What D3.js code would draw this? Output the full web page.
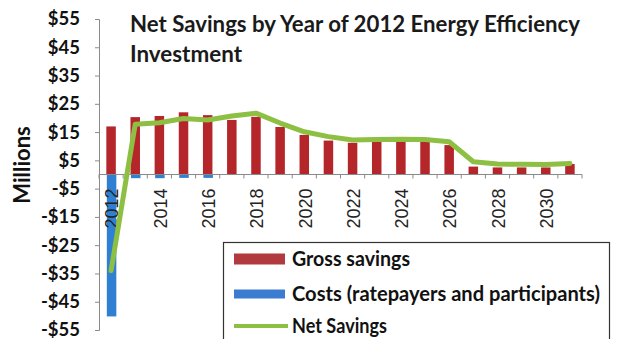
<!DOCTYPE html>
<html><head><meta charset="utf-8">
<script src="https://cdn.jsdelivr.net/npm/d3@7"></script>
<style>body{margin:0;background:#fff}svg{display:block}</style>
</head><body>
<script>
const years = d3.range(2012, 2032).map(String);
const grossSavings = [17, 20.3, 20.7, 22, 21, 19.3, 20.4, 16.8, 14, 12, 11.2, 11.6, 11.8, 11.6, 10.4, 2.8, 2.5, 2.5, 2.5, 3.7];
const costs = [-50.2, -1.3, -1.3, -1.2, -1.2, 0, 0, 0, 0, 0, 0, 0, 0, 0, 0, 0, 0, 0, 0, 0];
const netSavings = [-34, 17.8, 18.3, 19.8, 19.3, 20.7, 21.7, 18.2, 15.1, 13.4, 12.2, 12.4, 12.5, 12.4, 11.6, 4.5, 3.7, 3.6, 3.5, 3.9];
const yTicks = [-55, -45, -35, -25, -15, -5, 5, 15, 25, 35, 45, 55];
const xTickLabels = ["2012","2014","2016","2018","2020","2022","2024","2026","2028","2030"];
const titleLines = ["Net Savings by Year of 2012 Energy Efficiency", "Investment"];
const legendItems = ["Gross savings", "Costs (ratepayers and participants)", "Net Savings"];

const W = 619, H = 339;
const svg = d3.select("body").append("svg").attr("width", W).attr("height", H);
const font = "Lato, 'Open Sans', sans-serif";

const x = d3.scaleBand().domain(years).range([99, 582]).paddingInner(0).paddingOuter(0);
const y = d3.scaleLinear().domain([-55, 55]).range([330, 19]);
const bw = 9.5;
const red = "#b5262b", blue = "#2f7fd3", green = "#8dbf43";

// y axis
const yAxis = svg.append("g").attr("transform", "translate(99,0)")
  .call(d3.axisLeft(y).tickValues(yTicks).tickSize(4).tickPadding(15)
    .tickFormat(v => (v < 0 ? "-$" : "$") + Math.abs(v)));
yAxis.select(".domain").attr("stroke", "#8a8a8a");
yAxis.selectAll(".tick line").attr("stroke", "#8a8a8a");
yAxis.selectAll("text").attr("font-family", font).attr("font-weight", "bold")
  .attr("font-size", 18.5).attr("fill", "#111");

// bars
svg.append("g").selectAll("rect").data(years).join("rect")
  .attr("x", d => x(d) + x.bandwidth()/2 - bw/2)
  .attr("width", bw)
  .attr("y", (d,i) => y(grossSavings[i]))
  .attr("height", (d,i) => y(0) - y(grossSavings[i]))
  .attr("fill", red);
svg.append("g").selectAll("rect").data(years).join("rect")
  .attr("x", d => x(d) + x.bandwidth()/2 - bw/2 + 0.5)
  .attr("width", bw)
  .attr("y", y(0))
  .attr("height", (d,i) => y(costs[i]) - y(0))
  .attr("fill", blue);

// x axis
const xAxisG = svg.append("g").attr("transform", `translate(0,${y(0)})`);
xAxisG.append("line").attr("x1", 99).attr("x2", 582).attr("stroke", "#8a8a8a");
xAxisG.selectAll("line.t").data(d3.range(years.length + 1)).join("line")
  .attr("class", "t")
  .attr("x1", i => 99 + i * x.bandwidth()).attr("x2", i => 99 + i * x.bandwidth())
  .attr("y1", 0).attr("y2", 4).attr("stroke", "#8a8a8a");
xAxisG.selectAll("text").data(xTickLabels).join("text")
  .attr("transform", d => `translate(${x(d) + x.bandwidth()/2 + 1},14) rotate(-90)`)
  .attr("text-anchor", "end").attr("dy", "0.35em")
  .attr("font-family", "'Liberation Sans', Arial, sans-serif").attr("font-size", 18)
  .attr("fill", "#222").text(d => d);

// net line
const line = d3.line().x((d,i) => x(years[i]) + x.bandwidth()/2).y(d => y(d));
svg.append("path").datum(netSavings).attr("d", line)
  .attr("fill", "none").attr("stroke", green).attr("stroke-width", 5)
  .attr("stroke-linejoin", "round").attr("stroke-linecap", "round");

// title
svg.append("text").attr("x", 130).attr("y", 32).attr("font-family", font)
  .attr("font-weight", "bold").attr("font-size", 22).attr("fill", "#1a1a1a")
  .attr("textLength", 450).attr("lengthAdjust", "spacingAndGlyphs").text(titleLines[0]);
svg.append("text").attr("x", 130).attr("y", 62).attr("font-family", font)
  .attr("font-weight", "bold").attr("font-size", 22).attr("fill", "#1a1a1a")
  .attr("textLength", 112).attr("lengthAdjust", "spacingAndGlyphs").text(titleLines[1]);

// y label
svg.append("text").attr("transform", "translate(30,165) rotate(-90)")
  .attr("text-anchor", "middle").attr("font-family", font).attr("font-weight", "bold")
  .attr("font-size", 22).attr("fill", "#111").text("Millions");

// legend
const lg = svg.append("g");
lg.append("rect").attr("x", 223.5).attr("y", 242.5).attr("width", 386).attr("height", 110)
  .attr("fill", "#fff").attr("stroke", "#333").attr("stroke-width", 1.2);
const ly = [259, 294, 326];
const lw = [118, 308, 95];
lg.append("rect").attr("x", 234).attr("y", ly[0] - 5.5).attr("width", 51).attr("height", 11).attr("fill", "#b03a3e");
lg.append("rect").attr("x", 234).attr("y", ly[1] - 4.5).attr("width", 51).attr("height", 9).attr("fill", "#3b7bd0");
lg.append("line").attr("x1", 234).attr("x2", 288).attr("y1", ly[2]).attr("y2", ly[2])
  .attr("stroke", green).attr("stroke-width", 4);
lg.selectAll("text").data(legendItems).join("text")
  .attr("x", 292).attr("y", (d,i) => ly[i]).attr("dy", "0.35em")
  .attr("font-family", font).attr("font-weight", "bold").attr("font-size", 20)
  .attr("textLength", (d,i) => lw[i]).attr("lengthAdjust", "spacingAndGlyphs")
  .attr("fill", "#111").text(d => d);
</script>
</body></html>
